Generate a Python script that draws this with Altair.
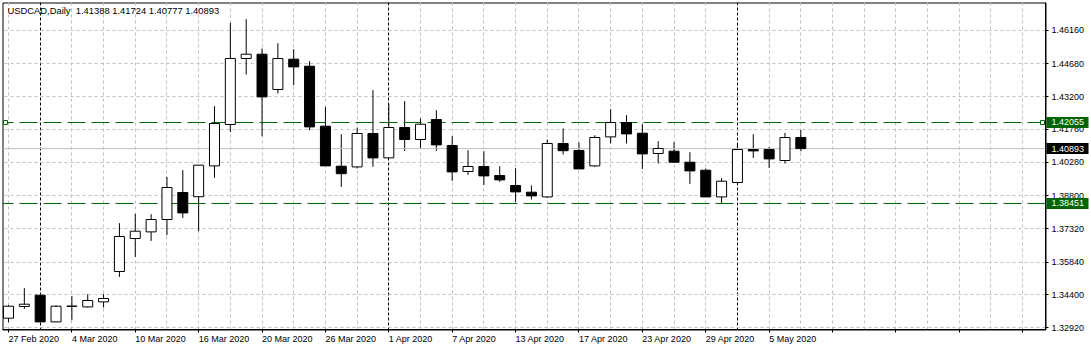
import json
import altair as alt
import pandas as pd

symbol = "USDCAD"
timeframe = "Daily"

dates = [
    "2020-02-27", "2020-02-28",
    "2020-03-02", "2020-03-03", "2020-03-04", "2020-03-05", "2020-03-06",
    "2020-03-09", "2020-03-10", "2020-03-11", "2020-03-12", "2020-03-13",
    "2020-03-16", "2020-03-17", "2020-03-18", "2020-03-19", "2020-03-20",
    "2020-03-23", "2020-03-24", "2020-03-25", "2020-03-26", "2020-03-27",
    "2020-03-30", "2020-03-31",
    "2020-04-01", "2020-04-02", "2020-04-03", "2020-04-06", "2020-04-07",
    "2020-04-08", "2020-04-09", "2020-04-10", "2020-04-13", "2020-04-14",
    "2020-04-15", "2020-04-16", "2020-04-17", "2020-04-20", "2020-04-21",
    "2020-04-22", "2020-04-23", "2020-04-24", "2020-04-27", "2020-04-28",
    "2020-04-29", "2020-04-30",
    "2020-05-01", "2020-05-04", "2020-05-05", "2020-05-06", "2020-05-07",
]

opens = [1.33346, 1.33867, 1.34370, 1.33182, 1.33875, 1.33849, 1.34072, 1.35424, 1.36893, 1.37187,
         1.37738, 1.38940, 1.38753, 1.40124, 1.41966, 1.44903, 1.45094, 1.43524, 1.44872, 1.44560,
         1.41890, 1.40110, 1.40079, 1.41565, 1.40480, 1.41832, 1.41298, 1.42189, 1.41031, 1.39874,
         1.40097, 1.39696, 1.39251, 1.38953, 1.38744, 1.41120, 1.40809, 1.40124, 1.41414, 1.42055,
         1.41579, 1.40675, 1.40778, 1.40288, 1.39932, 1.38744, 1.39385, 1.40853, 1.40853, 1.40364,
         1.41388]
highs = [1.33925, 1.34681, 1.34380, 1.33925, 1.34325, 1.34414, 1.34414, 1.37574, 1.37988, 1.37974,
         1.39634, 1.39932, 1.40160, 1.42780, 1.46487, 1.46652, 1.45348, 1.45584, 1.45317, 1.44783,
         1.42749, 1.41534, 1.41832, 1.43492, 1.42869, 1.43003, 1.42233, 1.42602, 1.41445, 1.40822,
         1.40778, 1.40110, 1.40021, 1.39251, 1.41298, 1.41788, 1.41165, 1.41490, 1.42647, 1.42380,
         1.41979, 1.41223, 1.41178, 1.40733, 1.40008, 1.39576, 1.41089, 1.41534, 1.40969, 1.41592,
         1.41724]
lows = [1.33168, 1.33760, 1.33170, 1.33170, 1.33257, 1.33822, 1.33822, 1.35184, 1.36074, 1.36786,
        1.37040, 1.37810, 1.37218, 1.39590, 1.41637, 1.44191, 1.41445, 1.43346, 1.43715, 1.41712,
        1.40120, 1.39189, 1.40008, 1.40079, 1.40467, 1.40791, 1.40925, 1.40791, 1.39456, 1.39723,
        1.39278, 1.39412, 1.38522, 1.38628, 1.38700, 1.40631, 1.39985, 1.40079, 1.41120, 1.41120,
        1.39990, 1.40230, 1.40266, 1.39323, 1.38740, 1.38451, 1.39340, 1.40480, 1.40035, 1.40230,
        1.40777]
closes = [1.33880, 1.33969, 1.33182, 1.33880, 1.33885, 1.34134, 1.34223, 1.36982, 1.37218, 1.37738,
          1.39162, 1.38032, 1.40155, 1.42010, 1.44903, 1.45094, 1.43194, 1.44903, 1.44529, 1.41859,
          1.40124, 1.39777, 1.41565, 1.40480, 1.41832, 1.41298, 1.41979, 1.41058, 1.39857, 1.40097,
          1.39679, 1.39501, 1.38967, 1.38789, 1.41120, 1.40800, 1.39990, 1.41387, 1.42055, 1.41548,
          1.40658, 1.40898, 1.40288, 1.39901, 1.38744, 1.39443, 1.40853, 1.40791, 1.40435, 1.41387,
          1.40893]

levels = [1.42055, 1.38451]
y_ticks = [1.46160, 1.44680, 1.43200, 1.41760, 1.40280, 1.38800, 1.37320, 1.35840, 1.34400, 1.32920]

GREEN = "#006400"
GRID = "#c0c0c0"
FONT = "Liberation Sans"

n = len(dates)
df = pd.DataFrame({"i": list(range(n)), "date": dates, "open": opens,
                   "high": highs, "low": lows, "close": closes})
dt = pd.to_datetime(df["date"])

W, H = 1043, 327
BAR = 16.0
x_dom = [-0.0625, -0.0625 + W / BAR]
y_dom = [1.32843, 1.47395]

n_slots = int(x_dom[1]) + 1
label_arr = ["" for _ in range(n_slots + 2)]
for i, d in enumerate(dt):
    if i % 4 == 0:
        label_arr[i] = f"{d.day} {d.strftime('%b')} {d.year}"
month_starts = [i for i in range(1, n) if dt[i].month != dt[i - 1].month]

xs = alt.Scale(domain=x_dom, nice=False, zero=False)
ys = alt.Scale(domain=y_dom, nice=False, zero=False)

sep_test = f"indexof({json.dumps(month_starts)}, datum.value) >= 0"
x_axis = alt.Axis(
    values=list(range(0, n_slots, 2)),
    labelExpr=f"{json.dumps(label_arr)}[datum.value]",
    grid=True,
    gridColor={"condition": {"test": sep_test, "value": "black"}, "value": GRID},
    gridDash={"condition": {"test": sep_test, "value": [3, 2]}, "value": [3, 3]},
    tickOpacity={"condition": {"test": "datum.value % 4 === 0", "value": 1}, "value": 0},
    tickSize=3, tickColor="black",
    domain=True, domainColor="black",
    labelAlign="left", labelBaseline="top", labelPadding=2,
    labelFlush=False, labelOverlap=False, labelBound=False,
    labelFont=FONT, labelFontSize=9, labelColor="black",
    translate=0, title=None,
)
y_axis = alt.Axis(
    orient="right", values=y_ticks, format=".5f",
    grid=True, gridColor=GRID, gridDash=[3, 3],
    tickSize=3, tickColor="black", domain=True, domainColor="black",
    labelPadding=3, labelFont=FONT, labelFontSize=9, labelColor="black",
    labelOverlap=False, labelBound=False, labelFlush=False,
    translate=0, title=None,
)


def X(f):
    return alt.X(f, scale=xs, axis=x_axis)


def Y(f):
    return alt.Y(f, scale=ys, axis=y_axis)


base = alt.Chart(df)

wicks = base.mark_rule(color="black", strokeWidth=1, clip=True).encode(
    x=X("i:Q"), y=Y("low:Q"), y2="high:Q",
)
bodies = base.mark_bar(size=10, stroke="black", strokeWidth=1, clip=True).encode(
    x=X("i:Q"), y=Y("open:Q"), y2="close:Q",
    fill=alt.condition("datum.close >= datum.open", alt.value("white"), alt.value("black")),
)

line_df = pd.DataFrame({
    "v": levels + [closes[-1]],
    "col": [GREEN] * len(levels) + [GRID],
    "dash": [1] * len(levels) + [0],
})

lev_lines = alt.Chart(line_df).transform_filter("datum.dash == 1").mark_rule(
    strokeWidth=1, strokeDash=[18, 6], clip=True).encode(
    y=Y("v:Q"), stroke=alt.Stroke("col:N", scale=None))
bid_line = alt.Chart(line_df).transform_filter("datum.dash == 0").mark_rule(
    strokeWidth=1, clip=True).encode(
    y=Y("v:Q"), stroke=alt.Stroke("col:N", scale=None))

box_df = pd.DataFrame({
    "v": levels + [closes[-1]],
    "col": [GREEN] * len(levels) + ["black"],
})
box_df["txt"] = box_df["v"].map(lambda v: f"{v:.5f}")
boxes = alt.Chart(box_df).mark_rect(height=11).encode(
    x=alt.value(W + 1), x2=alt.value(W + 43),
    y=Y("v:Q"),
    fill=alt.Fill("col:N", scale=None),
)
box_txt = alt.Chart(box_df).mark_text(align="left", baseline="middle", color="white",
                                      font=FONT, fontSize=9).encode(
    x=alt.value(W + 6), y=Y("v:Q"), text="txt:N",
)

mk_df = pd.DataFrame({"v": [levels[0]]})
mk_left = alt.Chart(mk_df).mark_point(shape="square", filled=True, fill="white", stroke=GREEN,
                                      strokeWidth=1, size=16, opacity=1).encode(
    x=alt.value(3), y=Y("v:Q"))
mk_right = alt.Chart(mk_df).mark_point(shape="square", filled=True, fill="white", stroke=GREEN,
                                       strokeWidth=1, size=16, opacity=1).encode(
    x=alt.value(W - 3), y=Y("v:Q"))

o, h, l, c = opens[-1], highs[-1], lows[-1], closes[-1]
title_df = pd.DataFrame({"t": [f"{symbol},{timeframe}\u00a0\u00a0{o:.5f} {h:.5f} {l:.5f} {c:.5f}"]})
title = alt.Chart(title_df).mark_text(align="left", baseline="middle", font=FONT,
                                      fontSize=9.4, color="black").encode(
    x=alt.value(5), y=alt.value(8.5), text="t:N")

chart = alt.layer(wicks, lev_lines, bid_line, bodies, boxes, box_txt, mk_left, mk_right, title).properties(
    width=W, height=H,
    autosize=alt.AutoSizeParams(type="none"),
    padding={"left": 2.5, "top": 2.5, "right": 1091 - 2.5 - W, "bottom": 351 - 2.5 - H},
    background="white",
).configure_view(stroke="black", strokeWidth=1)

chart.save("out.html", embed_options={"renderer": "svg", "actions": False})
